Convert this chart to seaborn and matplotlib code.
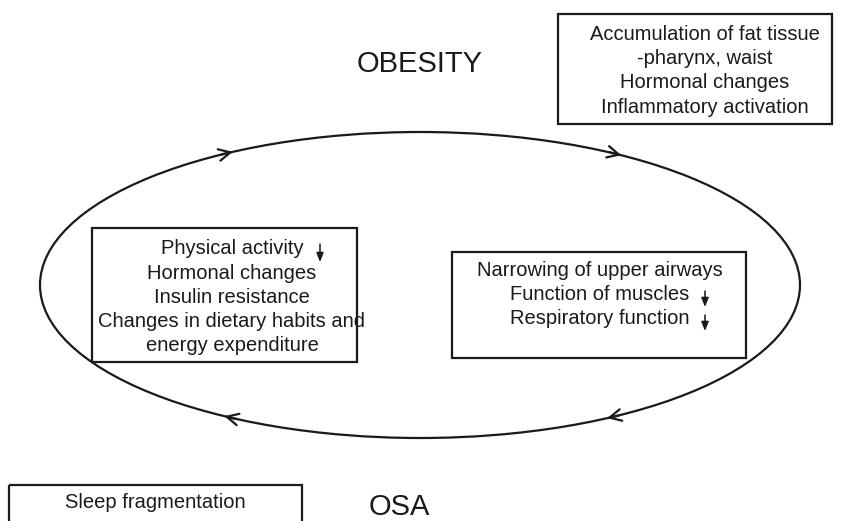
import numpy as np
import matplotlib
matplotlib.use("Agg")
import matplotlib.pyplot as plt
from matplotlib.patches import Ellipse, Rectangle
import seaborn as sns

# ---- content ----
title_top = "OBESITY"
title_bottom = "OSA"
box_top_right = ["Accumulation of fat tissue", "-pharynx, waist", "Hormonal changes", "Inflammatory activation"]
box_left = ["Physical activity", "Hormonal changes", "Insulin resistance",
            "Changes in dietary habits and", "energy expenditure"]
box_left_down = [True, False, False, False, False]
box_right = ["Narrowing of upper airways", "Function of muscles", "Respiratory function"]
box_right_down = [False, True, True]
box_bottom = ["Sleep fragmentation"]

sns.set_theme(style="white")
plt.rcParams['font.family'] = ['Liberation Sans', 'DejaVu Sans']

W, H = 841, 521
fig = plt.figure(figsize=(W / 100, H / 100), dpi=100)
ax = fig.add_axes([0, 0, 1, 1])
ax.set_xlim(0, W)
ax.set_ylim(H, 0)
ax.axis("off")

lw = 1.6
col = "#1a1a1a"
fs = 14.5

# cycle ellipse
cx, cy, ew, eh = 420, 285, 760, 306
ax.add_patch(Ellipse((cx, cy), ew, eh, fill=False, lw=lw, ec=col))

def chevron(theta_deg, direction):
    t = np.deg2rad(theta_deg)
    x = cx + ew / 2 * np.cos(t)
    y = cy + eh / 2 * np.sin(t)
    dx = -ew / 2 * np.sin(t) * direction
    dy = eh / 2 * np.cos(t) * direction
    n = np.hypot(dx, dy)
    dx, dy = dx / n, dy / n
    ax.annotate("", xy=(x, y), xytext=(x - dx * 12, y - dy * 12),
                arrowprops=dict(arrowstyle="->,head_length=0.7,head_width=0.35",
                                lw=lw, color=col, shrinkA=0, shrinkB=0))

chevron(-119.5, 1)  # top-left, moving right
chevron(-58, 1)     # top-right, moving right
chevron(121, 1)     # bottom-left, moving left
chevron(60.5, 1)    # bottom-right, moving left

def box(x0, y0, x1, y1):
    ax.add_patch(Rectangle((x0, y0), x1 - x0, y1 - y0, fill=False, lw=lw, ec=col))

def down_arrow(x, y0, y1):
    ax.annotate("", xy=(x, y1), xytext=(x, y0),
                arrowprops=dict(arrowstyle="-|>,head_length=0.45,head_width=0.18",
                                lw=1.1, color=col, shrinkA=0, shrinkB=0))

# titles
ax.text(420, 64, title_top, fontsize=21, ha="center", va="center", color=col)
ax.text(399, 507, title_bottom, fontsize=21, ha="center", va="center", color=col)

# top right box
box(558, 14, 832, 124)
for i, s in enumerate(box_top_right):
    ax.text(705, 34 + i * 24.5, s, fontsize=fs, ha="center", va="center", color=col)

# left box
box(92, 228, 357, 362)
for i, s in enumerate(box_left):
    y = 249 + i * 24.2
    ax.text(232, y, s, fontsize=fs, ha="center", va="center", color=col)
    if box_left_down[i]:
        down_arrow(320, y - 5, y + 13)

# right box
box(452, 252, 746, 358)
for i, s in enumerate(box_right):
    y = 271 + i * 24
    x = 477 if i == 0 else 510
    ax.text(x, y, s, fontsize=fs, ha="left", va="center", color=col)
    if box_right_down[i]:
        down_arrow(705, y - 4, y + 12)

# bottom box
box(9, 485, 302, 530)
ax.text(155, 503, box_bottom[0], fontsize=fs, ha="center", va="center", color=col)

fig.savefig("out.png", dpi=100, facecolor="white")
